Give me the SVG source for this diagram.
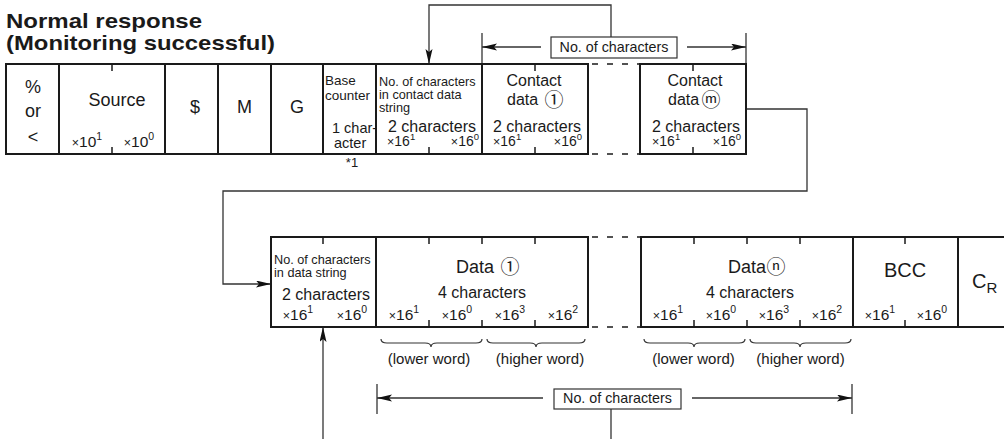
<svg xmlns="http://www.w3.org/2000/svg" width="1004" height="439" viewBox="0 0 1004 439">
<style>
text{font-family:"Liberation Sans",Arial,sans-serif;fill:#1a1a1a}
.ttl{font-weight:bold;font-size:21px}
.cell{fill:#fff;stroke:#1a1a1a;stroke-width:2}
.tick{stroke:#1a1a1a;stroke-width:1.5}
.ln{fill:none;stroke:#333;stroke-width:1.3}
.dash{stroke:#1a1a1a;stroke-width:1.6;stroke-dasharray:6 9}
.brace{fill:none;stroke:#333;stroke-width:1.2}
.box{fill:#fff;stroke:#333;stroke-width:1.2}
.big{font-size:18px}
.mid{font-size:16px}
.sm{font-size:12.7px}
.x{font-size:14px}
.xb{font-size:15.5px}
.mul{font-size:12.5px}
.sup{font-size:10.5px}
.supt{font-size:9.5px}
.circ{font-family:"Noto Sans CJK JP","DejaVu Sans",sans-serif;font-size:19px}
.lbl{font-size:14.3px}
.wd{font-size:15px}
</style>
<defs>
<marker id="ah" markerUnits="userSpaceOnUse" markerWidth="16" markerHeight="8" refX="15" refY="3.5" orient="auto">
<path d="M0,0 L15,3.5 L0,7 L3,3.5 z" fill="#111"/>
</marker>
</defs>

<g id="title">
<text class="ttl" x="6" y="28" textLength="196" lengthAdjust="spacingAndGlyphs">Normal response</text>
<text class="ttl" x="6" y="50" textLength="269" lengthAdjust="spacingAndGlyphs">(Monitoring successful)</text>
</g>

<g id="connectors">
<polyline class="ln" points="611,37 611,5 429,5 429,64" marker-end="url(#ah)"/>
<polyline class="ln" points="746,109 807,109 807,191 223,191 223,284 271,284" marker-end="url(#ah)"/>
<line class="ln" x1="323" y1="439" x2="323" y2="327" marker-end="url(#ah)"/>
<line class="ln" x1="611" y1="409" x2="611" y2="439"/>
<line class="ln" x1="541" y1="47" x2="482" y2="47" marker-end="url(#ah)"/>
<line class="ln" x1="687" y1="47" x2="746" y2="47" marker-end="url(#ah)"/>
<line class="ln" x1="482" y1="33" x2="482" y2="64"/>
<line class="ln" x1="746" y1="33" x2="746" y2="64"/>
<line class="ln" x1="543" y1="398" x2="377" y2="398" marker-end="url(#ah)"/>
<line class="ln" x1="692" y1="398" x2="852" y2="398" marker-end="url(#ah)"/>
<line class="ln" x1="377" y1="384" x2="377" y2="414"/>
<line class="ln" x1="852" y1="384" x2="852" y2="414"/>
<line class="dash" x1="592" y1="64" x2="640" y2="64"/>
<line class="dash" x1="592" y1="154" x2="640" y2="154"/>
<line class="dash" x1="592" y1="237" x2="641" y2="237"/>
<line class="dash" x1="592" y1="327" x2="641" y2="327"/>
</g>

<g id="count-top">
<rect class="box" x="551" y="37" width="126" height="21"/>
<text class="lbl" x="614" y="52" text-anchor="middle">No. of characters</text>
</g>
<g id="count-bottom">
<rect class="box" x="554" y="389" width="127" height="20"/>
<text class="lbl" x="617.5" y="403" text-anchor="middle">No. of characters</text>
</g>

<g id="cell-header">
<rect class="cell" x="6" y="64" width="53" height="90"/>
<text class="big" x="33" y="93" text-anchor="middle">%</text>
<text class="big" x="33" y="117" text-anchor="middle">or</text>
<text class="big" x="33" y="143" text-anchor="middle">&lt;</text>
</g>
<g id="cell-source">
<rect class="cell" x="59" y="64" width="106" height="90"/>
<line class="tick" x1="112" y1="64" x2="112" y2="71"/>
<line class="tick" x1="112" y1="147" x2="112" y2="154"/>
<text class="big" x="117" y="106" text-anchor="middle">Source</text>
<text class="xb" x="87" y="147" text-anchor="middle"><tspan class="mul">×</tspan>10<tspan class="sup" dy="-7">1</tspan></text>
<text class="xb" x="139" y="147" text-anchor="middle"><tspan class="mul">×</tspan>10<tspan class="sup" dy="-7">0</tspan></text>
</g>
<g id="cell-dollar">
<rect class="cell" x="165" y="64" width="53" height="90"/>
<text class="big" x="195" y="113" text-anchor="middle">$</text>
</g>
<g id="cell-m">
<rect class="cell" x="218" y="64" width="53" height="90"/>
<text class="big" x="244.5" y="113" text-anchor="middle">M</text>
</g>
<g id="cell-g">
<rect class="cell" x="271" y="64" width="52" height="90"/>
<text class="big" x="297" y="113" text-anchor="middle">G</text>
</g>
<g id="cell-base">
<rect class="cell" x="323" y="64" width="53" height="90"/>
<text font-size="13.5" x="325" y="85">Base</text>
<text font-size="13.5" x="325" y="100">counter</text>
<text font-size="14.5" x="332" y="133">1 char-</text>
<text font-size="14.5" x="334" y="148">acter</text>
<text font-size="13" x="352" y="167" text-anchor="middle">*1</text>
</g>
<g id="cell-contact-count">
<rect class="cell" x="376" y="64" width="106" height="90"/>
<line class="tick" x1="429" y1="147" x2="429" y2="154"/>
<text class="sm" x="379" y="86">No. of characters</text>
<text class="sm" x="379" y="99">in contact data</text>
<text class="sm" x="379" y="112">string</text>
<text class="mid" x="388" y="132">2 characters</text>
<text class="x" x="387" y="146"><tspan class="mul">×</tspan>16<tspan class="supt" dy="-6">1</tspan></text>
<text class="x" x="479" y="146" text-anchor="end"><tspan class="mul">×</tspan>16<tspan class="supt" dy="-6">0</tspan></text>
</g>
<g id="cell-contact-1">
<rect class="cell" x="482" y="64" width="106" height="90"/>
<line class="tick" x1="535" y1="64" x2="535" y2="71"/>
<line class="tick" x1="535" y1="147" x2="535" y2="154"/>
<text class="mid" x="534" y="86" text-anchor="middle">Contact</text>
<text class="mid" x="507" y="105">data</text>
<text class="circ" x="554" y="107" text-anchor="middle">①</text>
<text class="mid" x="493" y="132">2 characters</text>
<text class="x" x="493" y="146"><tspan class="mul">×</tspan>16<tspan class="supt" dy="-6">1</tspan></text>
<text class="x" x="582" y="146" text-anchor="end"><tspan class="mul">×</tspan>16<tspan class="supt" dy="-6">0</tspan></text>
</g>
<g id="cell-contact-m">
<rect class="cell" x="640" y="64" width="106" height="90"/>
<line class="tick" x1="693" y1="64" x2="693" y2="71"/>
<line class="tick" x1="693" y1="147" x2="693" y2="154"/>
<text class="mid" x="695" y="86" text-anchor="middle">Contact</text>
<text class="mid" x="668" y="105">data</text>
<text class="circ" x="711" y="107" text-anchor="middle">ⓜ</text>
<text class="mid" x="652" y="132">2 characters</text>
<text class="x" x="652" y="146"><tspan class="mul">×</tspan>16<tspan class="supt" dy="-6">1</tspan></text>
<text class="x" x="741" y="146" text-anchor="end"><tspan class="mul">×</tspan>16<tspan class="supt" dy="-6">0</tspan></text>
</g>

<g id="cell-data-count">
<rect class="cell" x="271" y="237" width="105" height="90"/>
<line class="tick" x1="323" y1="237" x2="323" y2="244"/>
<text class="sm" x="274" y="264">No. of characters</text>
<text class="sm" x="274" y="277">in data string</text>
<text class="mid" x="282" y="300">2 characters</text>
<text class="xb" x="298" y="320" text-anchor="middle"><tspan class="mul">×</tspan>16<tspan class="sup" dy="-7">1</tspan></text>
<text class="xb" x="352" y="320" text-anchor="middle"><tspan class="mul">×</tspan>16<tspan class="sup" dy="-7">0</tspan></text>
</g>
<g id="cell-data-1">
<rect class="cell" x="376" y="237" width="212" height="90"/>
<line class="tick" x1="429" y1="237" x2="429" y2="244"/>
<line class="tick" x1="482" y1="237" x2="482" y2="244"/>
<line class="tick" x1="535" y1="237" x2="535" y2="244"/>
<line class="tick" x1="429" y1="320" x2="429" y2="327"/>
<line class="tick" x1="482" y1="320" x2="482" y2="327"/>
<line class="tick" x1="535" y1="320" x2="535" y2="327"/>
<text class="big" x="456" y="273">Data</text>
<text class="circ" x="510" y="274" text-anchor="middle">①</text>
<text class="mid" x="482" y="298" text-anchor="middle">4 characters</text>
<text class="xb" x="404" y="320" text-anchor="middle"><tspan class="mul">×</tspan>16<tspan class="sup" dy="-7">1</tspan></text>
<text class="xb" x="457" y="320" text-anchor="middle"><tspan class="mul">×</tspan>16<tspan class="sup" dy="-7">0</tspan></text>
<text class="xb" x="510" y="320" text-anchor="middle"><tspan class="mul">×</tspan>16<tspan class="sup" dy="-7">3</tspan></text>
<text class="xb" x="563" y="320" text-anchor="middle"><tspan class="mul">×</tspan>16<tspan class="sup" dy="-7">2</tspan></text>
<path class="brace" d="M381,339 Q381,343 387,343 L425,343 Q431,343 431,347 Q431,343 437,343 L476,343 Q482,343 482,339"/>
<path class="brace" d="M487,339 Q487,343 493,343 L530,343 Q536,343 536,347 Q536,343 542,343 L579,343 Q585,343 585,339"/>
<text class="wd" x="429" y="364" text-anchor="middle">(lower word)</text>
<text class="wd" x="540" y="364" text-anchor="middle">(higher word)</text>
</g>
<g id="cell-data-n">
<rect class="cell" x="641" y="237" width="212" height="90"/>
<line class="tick" x1="694" y1="237" x2="694" y2="244"/>
<line class="tick" x1="747" y1="237" x2="747" y2="244"/>
<line class="tick" x1="800" y1="237" x2="800" y2="244"/>
<line class="tick" x1="694" y1="320" x2="694" y2="327"/>
<line class="tick" x1="747" y1="320" x2="747" y2="327"/>
<line class="tick" x1="800" y1="320" x2="800" y2="327"/>
<text class="big" x="728" y="273">Data</text>
<text class="circ" x="776" y="274" text-anchor="middle">ⓝ</text>
<text class="mid" x="750" y="298" text-anchor="middle">4 characters</text>
<text class="xb" x="668" y="320" text-anchor="middle"><tspan class="mul">×</tspan>16<tspan class="sup" dy="-7">1</tspan></text>
<text class="xb" x="721" y="320" text-anchor="middle"><tspan class="mul">×</tspan>16<tspan class="sup" dy="-7">0</tspan></text>
<text class="xb" x="774" y="320" text-anchor="middle"><tspan class="mul">×</tspan>16<tspan class="sup" dy="-7">3</tspan></text>
<text class="xb" x="827" y="320" text-anchor="middle"><tspan class="mul">×</tspan>16<tspan class="sup" dy="-7">2</tspan></text>
<path class="brace" d="M644,339 Q644,343 650,343 L688,343 Q694,343 694,347 Q694,343 700,343 L739,343 Q745,343 745,339"/>
<path class="brace" d="M750,339 Q750,343 756,343 L794,343 Q800,343 800,347 Q800,343 806,343 L845,343 Q851,343 851,339"/>
<text class="wd" x="693.5" y="364" text-anchor="middle">(lower word)</text>
<text class="wd" x="800.5" y="364" text-anchor="middle">(higher word)</text>
</g>
<g id="cell-bcc">
<rect class="cell" x="853" y="237" width="105" height="90"/>
<line class="tick" x1="905" y1="237" x2="905" y2="244"/>
<line class="tick" x1="905" y1="320" x2="905" y2="327"/>
<text x="905" y="277" text-anchor="middle" style="font-size:20px">BCC</text>
<text class="xb" x="880" y="320" text-anchor="middle"><tspan class="mul">×</tspan>16<tspan class="sup" dy="-7">1</tspan></text>
<text class="xb" x="932" y="320" text-anchor="middle"><tspan class="mul">×</tspan>16<tspan class="sup" dy="-7">0</tspan></text>
</g>
<g id="cell-cr">
<rect class="cell" x="958" y="237" width="60" height="90"/>
<text x="972" y="288" style="font-size:20px">C<tspan dy="5" style="font-size:15px">R</tspan></text>
</g>
</svg>
